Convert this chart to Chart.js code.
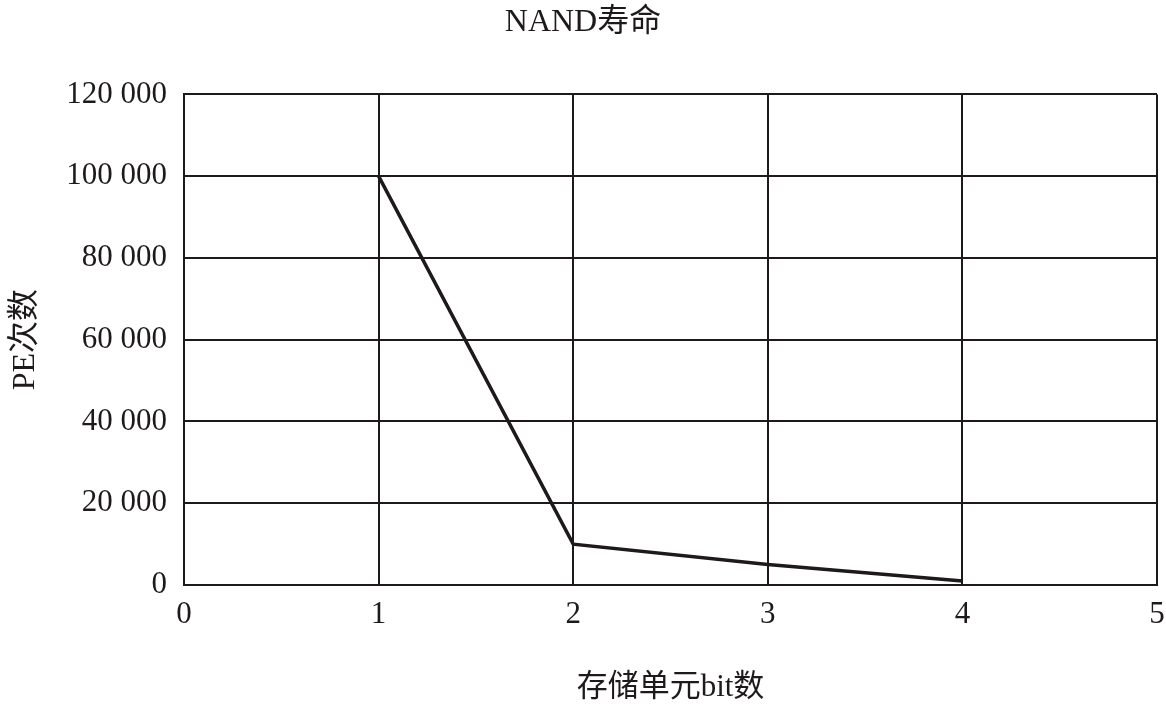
<!DOCTYPE html>
<html lang="zh">
<head>
  <meta charset="UTF-8">
  <title>NAND寿命</title>
  <script src="https://cdn.jsdelivr.net/npm/chart.js"></script>
  <style>
    html, body { margin: 0; padding: 0; background: #fff; }
    #wrap { width: 1166px; height: 708px; }
  </style>
</head>
<body>
  <div id="wrap"><canvas id="grafico" width="1166" height="708"></canvas></div>

  <script>
    // bit per cella vs cicli PE
    const bitCella = [1, 2, 3, 4];
    const cicliPE = [100000, 10000, 5000, 1000];

    const xMin = 0, xMax = 5;
    const yMin = 0, yMax = 120000, yStep = 20000;

    const FONT = '"Liberation Serif", "Times New Roman", "Noto Sans CJK SC", serif';
    const INK = '#1e1a1b';

    // 120000 -> "120 000"
    function conSpazio(v) {
      return String(v).replace(/\B(?=(\d{3})+(?!\d))/g, ' ');
    }

    const ctx = document.getElementById('grafico').getContext('2d');
    new Chart(ctx, {
      type: 'line',
      data: {
        datasets: [{
          data: bitCella.map((b, i) => ({ x: b, y: cicliPE[i] })),
          borderColor: INK,
          borderWidth: 3.5,
          pointRadius: 0,
          fill: false,
          tension: 0
        }]
      },
      options: {
        responsive: false,
        animation: false,
        layout: { padding: 0 },
        plugins: {
          legend: { display: false },
          tooltip: { enabled: false },
          title: {
            display: true,
            text: 'NAND寿命',
            color: INK,
            font: { family: FONT, size: 32, weight: 'normal' },
            padding: { top: 3, bottom: 53 }
          }
        },
        scales: {
          x: {
            type: 'linear',
            min: xMin,
            max: xMax,
            afterFit: s => { s.height = 123; s.paddingRight = 9; },
            ticks: {
              stepSize: 1,
              color: INK,
              padding: 11,
              font: { family: FONT, size: 31 }
            },
            grid: { color: INK, lineWidth: 2, drawTicks: false },
            border: { color: INK, width: 2 },
            title: {
              display: true,
              text: '存储单元bit数',
              color: INK,
              font: { family: FONT, size: 31 },
              padding: { top: 2, bottom: 2 }
            }
          },
          y: {
            min: yMin,
            max: yMax,
            afterFit: s => { s.width = 184; },
            ticks: {
              stepSize: yStep,
              color: INK,
              padding: 17,
              font: { family: FONT, size: 31 },
              callback: v => conSpazio(v)
            },
            grid: { color: INK, lineWidth: 2, drawTicks: false },
            border: { color: INK, width: 2 },
            title: {
              display: true,
              text: 'PE次数',
              color: INK,
              font: { family: FONT, size: 32 },
              padding: { top: 6, bottom: 4 }
            }
          }
        }
      }
    });
  </script>
</body>
</html>
